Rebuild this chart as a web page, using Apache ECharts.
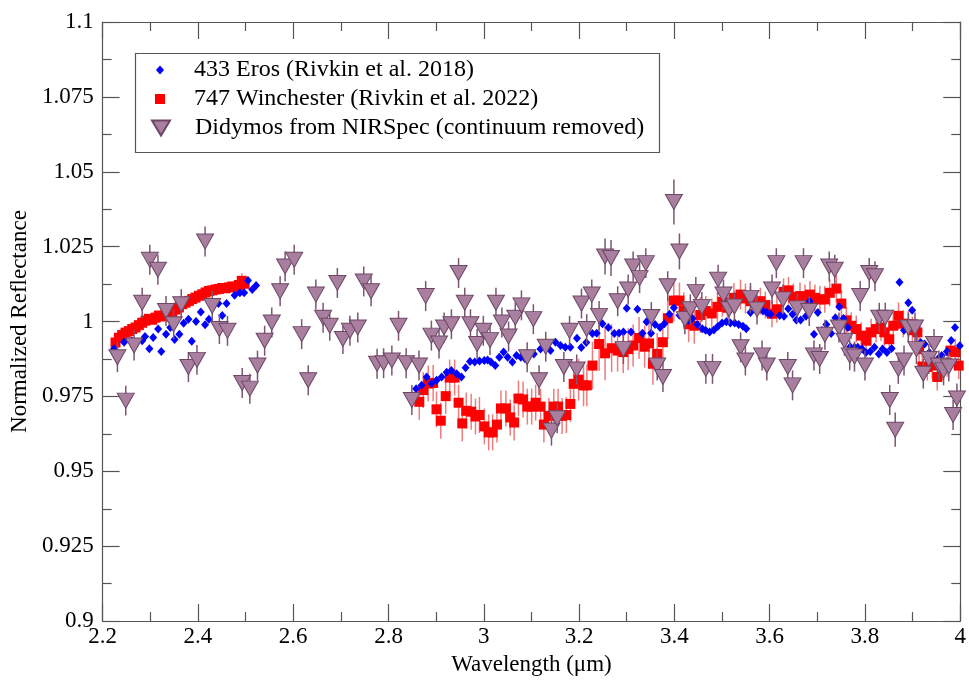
<!DOCTYPE html>
<html>
<head>
<meta charset="utf-8">
<script src="https://cdn.jsdelivr.net/npm/echarts@6/dist/echarts.min.js"></script>
<style>
html,body{margin:0;padding:0;background:#fff;}
#chart{width:969px;height:681px;}
</style>
</head>
<body>
<div id="chart"></div>
<script>
// ---- Data ----
const seriesNames = ['433 Eros (Rivkin et al. 2018)', '747 Winchester (Rivkin et al. 2022)', 'Didymos from NIRSpec (continuum removed)'];
const xTitle = 'Wavelength (μm)';
const yTitle = 'Normalized Reflectance';

// 433 Eros: [wavelength, reflectance]
const eros = [
[2.224,0.9909],[2.245,0.9931],[2.261,0.9936],[2.283,0.9936],[2.289,0.995],[2.298,0.9909],[2.306,0.9947],[2.3165,0.9975],
[2.323,0.990],[2.333,0.9958],[2.342,0.998],[2.351,0.994],[2.361,0.9958],[2.370,0.9994],[2.380,1.0008],[2.387,0.9934],
[2.396,1.0],[2.406,1.0032],[2.415,0.9989],[2.423,1.0008],[2.443,1.006],[2.451,1.002],[2.460,1.006],[2.477,1.0088],
[2.488,1.0096],[2.497,1.0096],[2.505,1.0137],[2.514,1.0107],[2.522,1.012],
[2.858,0.9776],[2.8695,0.9787],[2.880,0.9815],[2.890,0.9793],[2.901,0.9804],[2.9115,0.9815],[2.922,0.9831],[2.932,0.9837],
[2.943,0.9826],[2.953,0.9815],[2.9617,0.9846],[2.971,0.9867],[2.981,0.9865],[2.991,0.9868],[3.001,0.987],[3.008,0.9872],
[3.015,0.9865],[3.024,0.9853],[3.0325,0.9881],[3.0415,0.9898],[3.050,0.9881],[3.060,0.9865],[3.0686,0.9887],[3.0776,0.9881],
[3.0866,0.9876],[3.0963,0.9892],[3.105,0.9892],[3.119,0.9908],[3.1296,0.992],[3.140,0.9903],[3.1505,0.9931],[3.161,0.992],
[3.171,0.9914],[3.1817,0.9914],[3.1955,0.9944],[3.2046,0.9913],[3.215,0.993],[3.228,0.996],[3.237,0.9961],[3.249,0.9993],
[3.2614,0.998],[3.274,0.996],[3.284,0.9962],[3.293,0.9965],[3.300,1.0044],[3.309,0.9965],[3.3225,1.0041],[3.333,0.9961],
[3.3416,0.9999],[3.351,0.9961],[3.3595,0.999],[3.370,0.998],[3.379,0.9993],[3.3896,1.0024],[3.399,1.0046],[3.4106,1.0021],
[3.421,1.0021],[3.4295,1.0004],[3.438,1.001],[3.448,0.999],[3.4585,0.9976],[3.4655,0.9971],[3.474,0.9965],[3.483,0.9972],
[3.4915,0.9984],[3.500,0.9995],[3.509,0.9999],[3.5175,0.9995],[3.5265,0.9995],[3.535,0.999],[3.544,0.9984],[3.5508,0.9976],
[3.5597,1.003],[3.5735,1.0041],[3.586,1.0035],[3.594,1.003],[3.602,1.0024],[3.621,1.002],[3.630,1.0018],[3.639,1.0043],
[3.648,1.0024],[3.656,1.0005],[3.665,1.0005],[3.676,1.0018],[3.684,1.0068],[3.693,0.9958],[3.701,1.003],[3.710,0.997],
[3.719,0.999],[3.729,0.996],[3.738,1.0013],[3.746,1.0049],[3.755,1.001],[3.764,0.998],[3.769,0.9916],[3.778,0.9914],
[3.785,0.9914],[3.794,0.9908],[3.802,0.9897],[3.811,0.99],[3.820,0.9914],[3.829,0.9892],[3.837,0.9908],[3.846,0.9897],
[3.856,0.991],[3.8725,1.0131],[3.882,0.9971],[3.891,1.0063],[3.899,1.0038],[3.909,0.9985],[3.917,0.993],[3.925,0.9925],
[3.935,0.9897],[3.944,0.9919],[3.953,0.9875],[3.961,0.9887],[3.972,0.99],[3.981,0.9937],[3.989,0.998],[3.999,0.9919]
];

// 747 Winchester: [wavelength, reflectance, error]
const winchester = [
[2.227,0.9930,0.0015],[2.234,0.9946,0.0015],[2.241,0.9955,0.0015],[2.248,0.9963,0.0015],[2.255,0.9968,0.0015],[2.262,0.9975,0.0015],
[2.269,0.9980,0.0015],[2.276,0.9988,0.0015],[2.283,0.9996,0.0015],[2.290,1.0003,0.0015],[2.297,1.0009,0.0015],[2.304,1.0006,0.0015],
[2.311,1.0013,0.0015],[2.318,1.0020,0.0015],[2.325,1.0017,0.0015],[2.332,1.0030,0.0015],[2.339,1.0034,0.0015],[2.346,1.0031,0.0015],
[2.353,1.0040,0.0015],[2.360,1.0047,0.0015],[2.367,1.0058,0.0015],[2.374,1.0063,0.0015],[2.381,1.0069,0.0015],[2.388,1.0075,0.0015],
[2.395,1.0080,0.0015],[2.402,1.0086,0.0015],[2.409,1.0091,0.0015],[2.416,1.0097,0.0015],[2.423,1.0102,0.0015],[2.430,1.0104,0.0015],
[2.437,1.0107,0.0015],[2.444,1.0109,0.0015],[2.451,1.0112,0.0015],[2.458,1.0111,0.0015],[2.465,1.0114,0.0015],[2.472,1.0117,0.0015],
[2.479,1.0116,0.0015],[2.486,1.0122,0.0015],[2.492,1.0136,0.0025],[2.498,1.0126,0.0015],
[2.8646,0.9732,0.006],[2.8729,0.9771,0.006],[2.8833,0.9793,0.006],[2.8937,0.9795,0.006],[2.9007,0.9707,0.006],[2.9097,0.9669,0.006],
[2.920,0.9751,0.006],[2.9284,0.9813,0.006],[2.9388,0.9813,0.006],[2.9471,0.9729,0.006],[2.9548,0.966,0.006],[2.9631,0.9702,0.006],
[2.9735,0.9699,0.006],[2.9825,0.9683,0.006],[2.9908,0.9688,0.006],[3.0012,0.965,0.006],[3.0102,0.963,0.006],[3.0185,0.963,0.006],
[3.0276,0.9656,0.006],[3.036,0.971,0.006],[3.0464,0.971,0.006],[3.0554,0.968,0.006],[3.0637,0.9663,0.006],[3.0727,0.9743,0.006],
[3.0824,0.974,0.006],[3.0914,0.9716,0.006],[3.1005,0.9716,0.006],[3.1088,0.9729,0.006],[3.1192,0.9716,0.006],[3.1261,0.9656,0.006],
[3.1365,0.9685,0.006],[3.1469,0.9716,0.006],[3.1559,0.9716,0.006],[3.1643,0.9685,0.006],[3.1733,0.9688,0.006],[3.1817,0.9725,0.006],
[3.1886,0.9792,0.007],[3.199,0.9806,0.007],[3.2094,0.9787,0.007],[3.2163,0.9787,0.007],[3.2281,0.9853,0.008],[3.242,0.9925,0.009],
[3.2545,0.9894,0.009],[3.2683,0.9911,0.008],[3.2808,0.9903,0.007],[3.2926,0.9898,0.007],[3.303,0.9908,0.007],[3.3134,0.992,0.007],
[3.3259,0.9945,0.007],[3.3377,0.9916,0.007],[3.3467,0.9927,0.007],[3.355,0.9859,0.007],[3.364,0.9892,0.007],[3.3758,0.9931,0.007],
[3.3863,1.0011,0.007],[3.3988,1.007,0.007],[3.4106,1.007,0.006],[3.4196,1.0037,0.006],[3.43,0.9991,0.006],[3.4418,0.9986,0.006],
[3.4543,1.0022,0.006],[3.466,1.0035,0.005],[3.4785,1.0027,0.005],[3.4903,1.0049,0.005],[3.5007,1.0066,0.005],[3.5111,1.0046,0.005],
[3.525,1.0079,0.005],[3.5388,1.009,0.005],[3.5492,1.0077,0.005],[3.5597,1.0068,0.005],[3.5805,1.0068,0.0045],[3.5909,1.0055,0.0045],
[3.6048,1.0026,0.0045],[3.6152,1.0041,0.0045],[3.6291,1.0099,0.0045],[3.6395,1.0104,0.0045],[3.6499,1.0082,0.0045],[3.6637,1.0085,0.0045],
[3.6741,1.0079,0.0045],[3.6845,1.009,0.0045],[3.6949,1.0079,0.0045],[3.7053,1.0074,0.0045],[3.7157,1.0074,0.0045],[3.7261,1.0096,0.0045],
[3.74,1.011,0.0045],[3.7505,1.006,0.0045],[3.7609,1.0004,0.0045],[3.7713,0.9986,0.0045],[3.7817,0.9975,0.0045],[3.7921,0.9953,0.0045],
[3.8025,0.9936,0.0045],[3.8129,0.9964,0.0045],[3.8233,0.9975,0.0045],[3.8337,0.998,0.0045],[3.8406,0.9964,0.0045],[3.851,0.9941,0.0045],
[3.8594,0.9986,0.0045],[3.8705,1.0019,0.0045],[3.8802,0.9993,0.0045],[3.8913,0.9991,0.0045],[3.8996,0.9971,0.0045],[3.91,0.9964,0.0045],
[3.9135,0.9908,0.0045],[3.9205,0.985,0.0045],[3.9309,0.9848,0.0045],[3.9413,0.9853,0.0045],[3.9517,0.9815,0.0045],[3.9621,0.9848,0.0045],
[3.9725,0.9861,0.0045],[3.9794,0.9903,0.0045],[3.9898,0.9898,0.0045],[3.9967,0.9853,0.0045]
];

// Didymos (NIRSpec): [wavelength, reflectance, error]
const didymos = [
[2.231,0.9881,0.005],[2.2485,0.9736,0.005],[2.266,0.992,0.005],[2.283,1.0063,0.005],[2.299,1.0206,0.005],[2.316,1.0173,0.005],
[2.333,1.0035,0.005],[2.349,0.9991,0.005],[2.365,1.0058,0.005],[2.380,0.9848,0.005],[2.398,0.9872,0.005],[2.415,1.0267,0.005],
[2.430,1.0052,0.005],[2.445,0.9975,0.005],[2.462,0.9969,0.005],[2.493,0.9795,0.005],[2.509,0.9776,0.005],[2.525,0.9853,0.005],
[2.540,0.9936,0.005],[2.555,0.9997,0.005],[2.5725,1.0101,0.005],[2.583,1.0184,0.005],[2.602,1.0206,0.005],[2.6177,0.9958,0.005],
[2.6315,0.9804,0.005],[2.6475,1.009,0.005],[2.6627,1.0013,0.005],[2.6766,0.9986,0.005],[2.6926,1.0129,0.005],[2.7043,0.9942,0.005],
[2.719,0.9969,0.005],[2.7355,0.998,0.005],[2.748,1.0134,0.005],[2.7634,1.0101,0.005],[2.776,0.9859,0.005],[2.7897,0.9861,0.005],
[2.807,0.987,0.005],[2.821,0.9986,0.005],[2.837,0.9861,0.005],[2.849,0.9738,0.005],[2.864,0.9853,0.005],[2.878,1.0085,0.005],
[2.890,0.9953,0.005],[2.906,0.9927,0.005],[2.9166,0.998,0.005],[2.932,0.9991,0.005],[2.947,1.0162,0.005],[2.960,1.0063,0.005],
[2.972,0.9991,0.005],[2.986,0.9925,0.005],[2.999,0.9969,0.005],[3.013,0.9938,0.005],[3.0255,1.0063,0.005],[3.038,0.9997,0.005],
[3.052,0.995,0.005],[3.066,1.0013,0.005],[3.079,1.0054,0.005],[3.091,0.9881,0.005],[3.104,1.0008,0.005],[3.116,0.9804,0.005],
[3.130,0.9916,0.005],[3.142,0.9636,0.005],[3.154,0.9677,0.005],[3.168,0.9848,0.005],[3.180,0.9969,0.005],[3.195,0.9840,0.005],
[3.205,1.006,0.005],[3.216,0.9975,0.005],[3.2266,1.009,0.005],[3.242,1.0019,0.005],[3.2545,1.0217,0.006],[3.267,1.0212,0.006],
[3.281,1.0068,0.005],[3.293,0.9908,0.005],[3.303,1.0107,0.005],[3.3134,1.0184,0.005],[3.327,1.0145,0.005],[3.340,1.0195,0.005],
[3.3516,1.0015,0.005],[3.364,0.9853,0.005],[3.376,0.9815,0.005],[3.386,1.0118,0.005],[3.399,1.0399,0.0075],[3.4106,1.0234,0.006],
[3.422,1.0008,0.005],[3.4335,1.0041,0.005],[3.445,1.0099,0.005],[3.4577,1.0049,0.005],[3.466,0.9842,0.005],[3.480,0.9842,0.005],
[3.4918,1.014,0.005],[3.503,1.009,0.005],[3.5147,1.0041,0.005],[3.526,1.005,0.005],[3.539,0.9914,0.005],[3.549,0.987,0.005],
[3.5597,1.0079,0.005],[3.5735,1.004,0.005],[3.584,0.9887,0.005],[3.594,0.9853,0.005],[3.605,1.0107,0.005],[3.614,1.0195,0.005],
[3.628,1.0074,0.005],[3.638,0.9848,0.005],[3.648,0.9787,0.005],[3.658,1.0044,0.005],[3.671,1.0195,0.005],[3.683,1.0035,0.005],
[3.693,0.9887,0.005],[3.705,0.9875,0.005],[3.716,0.9956,0.005],[3.725,1.0184,0.005],[3.7366,1.0173,0.005],[3.7455,0.998,0.005],
[3.757,0.9936,0.005],[3.768,0.9887,0.005],[3.778,0.9883,0.005],[3.790,1.0085,0.005],[3.800,0.9853,0.005],[3.809,1.0162,0.005],
[3.821,1.0151,0.005],[3.830,1.0013,0.005],[3.8426,1.0013,0.005],[3.852,0.9738,0.005],[3.8635,0.9639,0.0057],[3.870,0.9842,0.005],
[3.882,0.987,0.005],[3.891,0.998,0.005],[3.905,0.998,0.005],[3.908,0.9908,0.005],[3.9225,0.9826,0.005],[3.934,0.9875,0.005],
[3.945,0.9925,0.005],[3.955,0.9853,0.005],[3.965,0.9837,0.005],[3.976,0.985,0.005],[3.985,0.9688,0.005],[3.993,0.9743,0.005]
];

// ---- Styles ----
const FONT = '"Liberation Serif", "DejaVu Serif", serif';
const AXIS_COLOR = '#555';
const EROS_COLOR = '#0000ff';
const WIN_COLOR = '#ff0000';
const WIN_ERR_COLOR = 'rgba(235,80,80,0.75)';
const DID_COLOR = '#a87f9e';
const DID_BORDER = '#6e4766';
const DID_ERR_COLOR = '#7c5572';

function errorBarSeries(data, color, width, z) {
  return {
    type: 'custom',
    silent: true,
    z: z,
    data: data.map(d => [d[0], d[1] - d[2], d[1] + d[2]]),
    encode: { x: 0, y: [1, 2] },
    renderItem: function (params, api) {
      const lo = api.coord([api.value(0), api.value(1)]);
      const hi = api.coord([api.value(0), api.value(2)]);
      return {
        type: 'line',
        shape: { x1: lo[0], y1: lo[1], x2: hi[0], y2: hi[1] },
        style: { stroke: color, lineWidth: width }
      };
    }
  };
}

const chart = echarts.init(document.getElementById('chart'), null, { renderer: 'canvas' });

const tickCommon = {
  axisLine: { show: true, onZero: false, lineStyle: { color: AXIS_COLOR, width: 1.2 } },
  axisTick: { show: true, inside: true, length: 17, lineStyle: { color: AXIS_COLOR, width: 1.2 } },
  minorTick: { show: true, splitNumber: 2, length: 9, lineStyle: { color: AXIS_COLOR, width: 1.2 } },
  splitLine: { show: false },
  minorSplitLine: { show: false }
};

const xBase = Object.assign({ type: 'value', min: 2.2, max: 4, interval: 0.2 }, tickCommon);
const yBase = Object.assign({ type: 'value', min: 0.9, max: 1.1, interval: 0.025 }, tickCommon);

const legendRow = (name, top, iconW, iconH, icon, padLeft) => ({
  data: [{ name: name, icon: icon }],
  left: 160 - iconW / 2,
  top: top,
  padding: 0,
  itemWidth: iconW,
  itemHeight: iconH,
  selectedMode: false,
  textStyle: { fontFamily: FONT, fontSize: 24, color: '#000', lineHeight: 26, padding: [0, 0, 0, padLeft] }
});

const option = {
  animation: false,
  backgroundColor: '#fff',
  grid: { left: 100, right: 4, top: 22, bottom: 54, containLabel: false },
  xAxis: [
    Object.assign({}, xBase, {
      position: 'bottom',
      name: xTitle,
      nameLocation: 'middle',
      nameGap: 30,
      nameTextStyle: { fontFamily: FONT, fontSize: 23, color: '#000' },
      axisLabel: {
        fontFamily: FONT, fontSize: 23, color: '#000', margin: 4,
        formatter: v => String(+v.toFixed(1))
      }
    }),
    Object.assign({}, xBase, { position: 'top', axisLabel: { show: false } })
  ],
  yAxis: [
    Object.assign({}, yBase, {
      position: 'left',
      name: yTitle,
      nameLocation: 'middle',
      nameGap: 68,
      nameTextStyle: { fontFamily: FONT, fontSize: 23, color: '#000' },
      axisLabel: {
        fontFamily: FONT, fontSize: 23, color: '#000', margin: 9,
        formatter: v => String(+v.toFixed(3))
      }
    }),
    Object.assign({}, yBase, { position: 'right', axisLabel: { show: false } })
  ],
  legend: [
    legendRow(seriesNames[0], 57, 8, 9, 'path://M5,0L10,5.5L5,11L0,5.5Z', 25),
    legendRow(seriesNames[1], 86, 10, 10, 'rect', 24),
    legendRow(seriesNames[2], 115, 18, 15, 'path://M0,0L18,0L9,15Z', 20)
  ],
  graphic: [{
    type: 'rect',
    left: 133, top: 51,
    shape: { width: 524, height: 99 },
    style: { fill: 'none', stroke: AXIS_COLOR, lineWidth: 1.2 },
    z: 100
  }],
  series: [
    errorBarSeries(winchester, WIN_ERR_COLOR, 1.5, 1),
    {
      name: seriesNames[1],
      type: 'scatter',
      z: 2,
      symbol: 'rect',
      symbolSize: 10,
      itemStyle: { color: WIN_COLOR, opacity: 1 },
      data: winchester.map(d => [d[0], d[1]])
    },
    {
      name: seriesNames[0],
      type: 'scatter',
      z: 3,
      symbol: 'diamond',
      symbolSize: [8, 9],
      itemStyle: { color: EROS_COLOR, opacity: 1 },
      data: eros
    },
    errorBarSeries(didymos, DID_ERR_COLOR, 1.5, 4),
    {
      name: seriesNames[2],
      type: 'scatter',
      z: 5,
      symbol: 'triangle',
      symbolRotate: 180,
      symbolSize: [17, 15],
      itemStyle: { color: DID_COLOR, borderColor: DID_BORDER, borderWidth: 1, opacity: 1 },
      data: didymos.map(d => [d[0], d[1]])
    }
  ]
};

chart.setOption(option);
</script>
</body>
</html>
